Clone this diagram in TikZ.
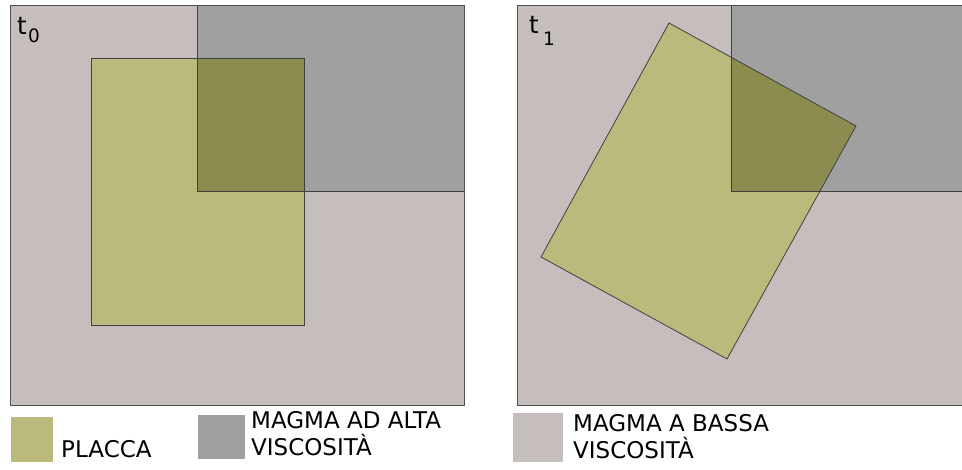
\documentclass[tikz,border=0pt]{standalone}
\usepackage{fontspec}
\setmainfont{DejaVu Sans}
\definecolor{lowv}{HTML}{C6BDBD}
\definecolor{highv}{HTML}{A0A0A0}
\definecolor{plate}{HTML}{B9BA7C}
\definecolor{overlap}{HTML}{8C8C50}
\definecolor{edge}{HTML}{505050}
\tikzset{
  panel/.style={fill=lowv, draw=edge, line width=0.9pt},
  hv/.style={fill=highv},
  hvline/.style={draw=edge!80!black, line width=0.9pt},
  plateline/.style={draw=black!75, line width=0.8pt},
  legtext/.style={anchor=base west, inner sep=0pt, font=\fontsize{23}{27}\selectfont},
  tlabel/.style={anchor=base west, inner sep=0pt, font=\fontsize{24.5}{24}\selectfont},
  sublabel/.style={anchor=base west, inner sep=0pt, font=\fontsize{18.5}{18}\selectfont},
}
\begin{document}
\begin{tikzpicture}[x=1pt,y=-1pt]
\useasboundingbox (0,0) rectangle (962,469);
% ---------- left panel t0
\path[panel] (10,5) rectangle (464,405);
\path[hv] (197,5) rectangle (464,191);
\path[fill=plate] (91,58) rectangle (304,325);
\begin{scope}
  \clip (197,5) rectangle (464,191);
  \path[fill=overlap] (91,58) rectangle (304,325);
\end{scope}
\draw[hvline] (464,5) -- (197,5) -- (197,191) -- (464,191);
\draw[plateline] (91,58) rectangle (304,325);
\draw[edge, line width=0.9pt] (10,5) rectangle (464,405);
\node[tlabel] (t0) at (17,34) {t};
\node[sublabel] (s0) at (28,42) {0};
% ---------- right panel t1
\path[panel] (517,5) rectangle (966,405);
\path[hv] (731,5) rectangle (966,191);
\path[fill=plate] (669,23) -- (856,126) -- (727,359) -- (541,257) -- cycle;
\begin{scope}
  \clip (731,5) rectangle (966,191);
  \path[fill=overlap] (669,23) -- (856,126) -- (727,359) -- (541,257) -- cycle;
\end{scope}
\draw[hvline] (966,5) -- (731,5) -- (731,191) -- (966,191);
\draw[plateline] (669,23) -- (856,126) -- (727,359) -- (541,257) -- cycle;
\draw[edge, line width=0.9pt] (966,5) -- (517,5) -- (517,405) -- (966,405);
\node[tlabel] (t1) at (529,33) {t};
\node[sublabel] (s1) at (543,45) {1};
% ---------- legend
\path[fill=plate] (11,417) rectangle (53,462);
\node[legtext] (lp) at (61,457) {PLACCA};
\path[fill=highv] (198,415) rectangle (245,459);
\node[legtext] (lh1) at (251,428) {MAGMA AD ALTA};
\node[legtext] (lh2) at (251,455) {VISCOSITÀ};
\path[fill=lowv] (513,413) rectangle (563,462);
\node[legtext] (ll1) at (573,431) {MAGMA A BASSA};
\node[legtext] (ll2) at (573,458) {VISCOSITÀ};
\end{tikzpicture}
\end{document}
